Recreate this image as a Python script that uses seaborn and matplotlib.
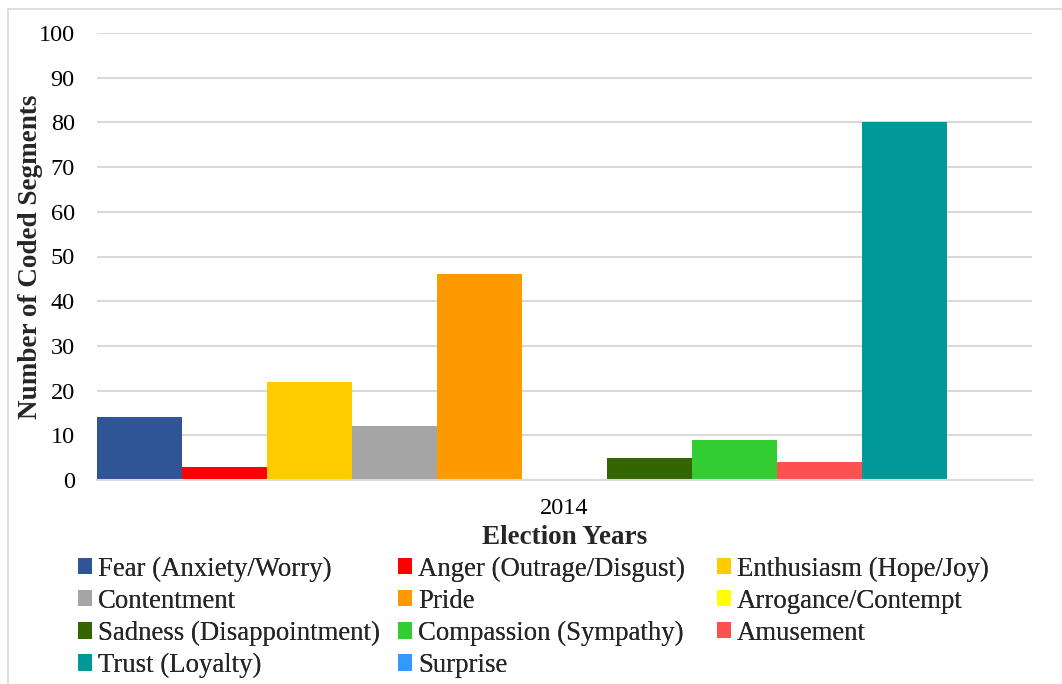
import pandas as pd
import seaborn as sns
import matplotlib.pyplot as plt
from matplotlib.lines import Line2D

years = ['2014']
emotions = ['Fear (Anxiety/Worry)', 'Anger (Outrage/Disgust)', 'Enthusiasm (Hope/Joy)',
            'Contentment', 'Pride', 'Arrogance/Contempt',
            'Sadness (Disappointment)', 'Compassion (Sympathy)', 'Amusement',
            'Trust (Loyalty)', 'Surprise']
counts = [14, 3, 22, 12, 46, 0, 5, 9, 4, 80, 0]
colors = ['#2F5597', '#FF0000', '#FFCC00', '#A5A5A5', '#FF9900', '#FFFF00',
          '#336600', '#33CC33', '#FF5050', '#009999', '#3399FF']

df = pd.DataFrame({'year': years * len(emotions), 'emotion': emotions, 'count': counts})

sns.set_style('white')
plt.rcParams['font.family'] = ['Liberation Serif', 'DejaVu Serif']

fig = plt.figure(figsize=(10.62, 6.84), dpi=100)
ax = fig.add_axes([97 / 1062, 1 - 480 / 684, (1032 - 97) / 1062, (480 - 33) / 684])

sns.barplot(data=df, x='year', y='count', hue='emotion', hue_order=emotions,
            palette=colors, width=1.0, gap=0, saturation=1, linewidth=0,
            ax=ax, legend=True)

ax.set_xlim(-0.5, 0.5)
ax.set_ylim(0, 100)
ax.set_yticks(range(0, 101, 10))
ax.yaxis.grid(True, color='#D9D9D9', linewidth=1.5)
ax.set_axisbelow(True)
for s in ['top', 'right', 'left']:
    ax.spines[s].set_visible(False)
ax.spines['bottom'].set_color('#D9D9D9')
ax.spines['bottom'].set_linewidth(1.5)
ax.tick_params(axis='both', length=0, labelsize=17.5, colors='black')
ax.tick_params(axis='y', pad=16)
ax.tick_params(axis='x', pad=13)

ax.set_ylabel('Number of Coded Segments', fontsize=19.5, fontweight='bold')
ax.yaxis.set_label_coords(-54 / 935, 0.5)
ax.set_xlabel('Election Years', fontsize=19.5, fontweight='bold', labelpad=4)

# legend: three fixed-width columns, filled row by row
handles, labels = ax.get_legend_handles_labels()
ax.get_legend().remove()
col_x = [67, 387, 706]
for c in range(3):
    idx = list(range(c, len(emotions), 3))
    leg = fig.legend([handles[i] for i in idx], [labels[i] for i in idx],
                     loc='upper left', bbox_to_anchor=(col_x[c] / 1062, 1 - 546 / 684),
                     frameon=False, fontsize=19.3, handlelength=0.55, handleheight=0.55,
                     handletextpad=0.2, labelspacing=0.26, borderaxespad=0)
    fig.add_artist(leg)

# outer chart border
fig.add_artist(Line2D([8 / 1062, 1], [1 - 9 / 684, 1 - 9 / 684], color='#D9D9D9', lw=1.2, transform=fig.transFigure))
fig.add_artist(Line2D([8 / 1062, 8 / 1062], [0, 1 - 9 / 684], color='#D9D9D9', lw=1.2, transform=fig.transFigure))

fig.savefig('out.png', dpi=100)
